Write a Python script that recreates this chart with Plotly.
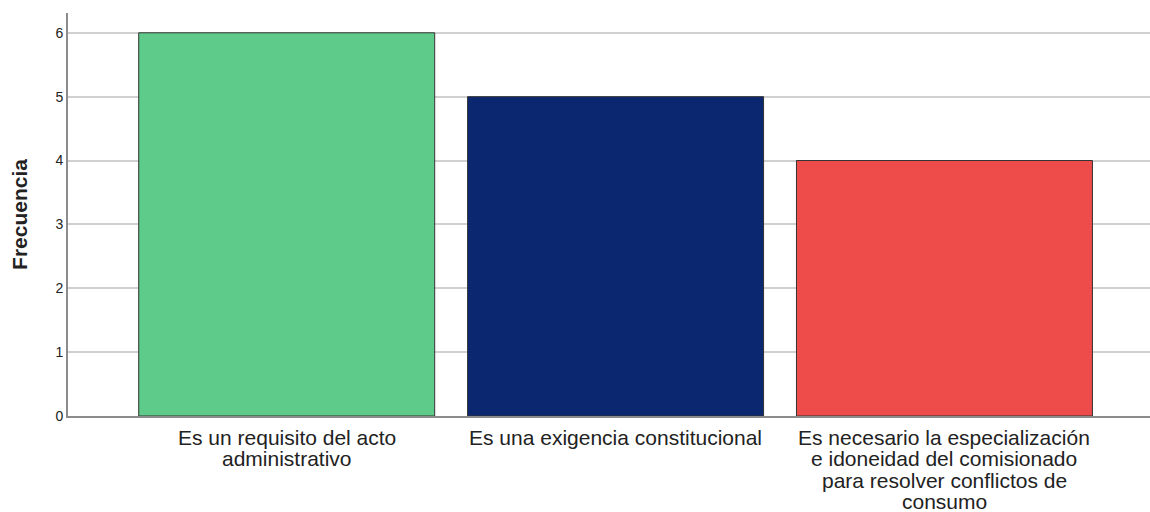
import plotly.graph_objects as go

# cada categoría con sus líneas de texto tal como aparecen bajo la barra
categorias = [
    ["Es un requisito del acto", "administrativo"],
    ["Es una exigencia constitucional"],
    ["Es necesario la especialización", "e idoneidad del comisionado",
     "para resolver conflictos de", "consumo"],
]
frecuencias = [6, 5, 4]
colores = ["#5ECB8B", "#0B2770", "#EE4B4B"]
ticks_y = [0, 1, 2, 3, 4, 5, 6]

FUENTE = "Liberation Sans, Arial, sans-serif"

fig = go.Figure()
fig.add_trace(
    go.Bar(
        x=list(range(len(categorias))),
        y=frecuencias,
        width=0.9,
        marker=dict(color=colores, line=dict(color="#333333", width=1)),
    )
)

# etiquetas del eje x, una anotación por línea para controlar el interlineado
for i, lineas in enumerate(categorias):
    for j, linea in enumerate(lineas):
        fig.add_annotation(
            x=i, y=0, xref="x", yref="paper",
            text=linea, showarrow=False,
            yanchor="middle", yshift=-21 - 21.5 * j,
            font=dict(family=FUENTE, size=21, color="#222222"),
        )

fig.update_layout(
    width=1150,
    height=512,
    margin=dict(l=68, r=0, t=13, b=96),
    paper_bgcolor="white",
    plot_bgcolor="white",
    showlegend=False,
    font=dict(family=FUENTE, color="#222222"),
)
fig.update_xaxes(
    range=[-0.665, 2.625],
    showticklabels=False,
    showline=True,
    linecolor="#8c8c8c",
    linewidth=2,
    ticks="",
    showgrid=False,
    zeroline=False,
)
fig.update_yaxes(
    range=[0, 6.31],
    tickmode="array",
    tickvals=ticks_y,
    tickfont=dict(size=14),
    showline=True,
    linecolor="#8c8c8c",
    linewidth=2,
    showgrid=True,
    gridcolor="#d0d0d0",
    gridwidth=2,
    zeroline=False,
    ticks="",
    title=dict(text="<b>Frecuencia</b>", font=dict(size=21), standoff=22),
)

fig.write_html(
    "out.html",
    config={"displayModeBar": False},
    post_script="document.body.style.margin='0';",
)
